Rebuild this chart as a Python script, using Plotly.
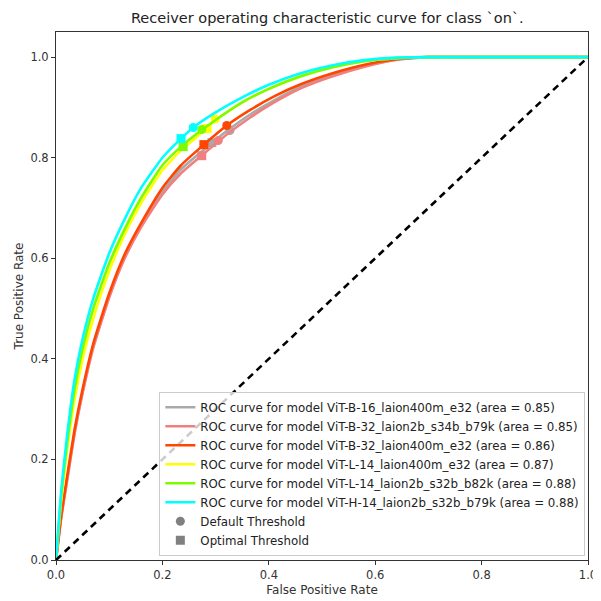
import plotly.graph_objects as go

# ---- data ----
model_names = [
    "ViT-B-16_laion400m_e32",
    "ViT-B-32_laion2b_s34b_b79k",
    "ViT-B-32_laion400m_e32",
    "ViT-L-14_laion400m_e32",
    "ViT-L-14_laion2b_s32b_b82k",
    "ViT-H-14_laion2b_s32b_b79k",
]
model_auc = [0.85, 0.85, 0.86, 0.87, 0.88, 0.88]

fpr_low = [0, 0.01, 0.02, 0.035, 0.05, 0.07, 0.1, 0.13, 0.16, 0.2, 0.235, 0.278,
           0.321, 0.365, 0.41, 0.46, 0.52, 0.58, 0.64, 0.7, 0.8, 0.9, 1.0]
fpr_high = [0, 0.01, 0.02, 0.035, 0.05, 0.07, 0.1, 0.13, 0.16, 0.2, 0.235, 0.258,
            0.3, 0.35, 0.4, 0.46, 0.52, 0.58, 0.64, 0.7, 0.8, 0.9, 1.0]

tpr_b16_400m = [0, 0.087, 0.154, 0.254, 0.334, 0.424, 0.524, 0.604, 0.664, 0.733, 0.777, 0.816,
                0.853, 0.886, 0.914, 0.941, 0.964, 0.982, 0.995, 1.0, 1.0, 1.0, 1.0]
tpr_b32_2b = [0, 0.086, 0.152, 0.252, 0.332, 0.422, 0.522, 0.602, 0.662, 0.727, 0.769, 0.808,
              0.846, 0.88, 0.91, 0.938, 0.962, 0.981, 0.995, 1.0, 1.0, 1.0, 1.0]
tpr_b32_400m = [0, 0.09, 0.16, 0.26, 0.34, 0.43, 0.53, 0.61, 0.67, 0.74, 0.785, 0.826,
                0.864, 0.895, 0.922, 0.946, 0.968, 0.985, 0.996, 1.0, 1.0, 1.0, 1.0]
tpr_l14_400m = [0, 0.12, 0.21, 0.32, 0.40, 0.48, 0.575, 0.65, 0.71, 0.775, 0.815, 0.835,
                0.875, 0.91, 0.937, 0.962, 0.98, 0.992, 0.998, 1.0, 1.0, 1.0, 1.0]
tpr_l14_2b = [0, 0.13, 0.225, 0.34, 0.42, 0.50, 0.59, 0.66, 0.72, 0.785, 0.822, 0.842,
              0.875, 0.91, 0.937, 0.962, 0.98, 0.992, 0.998, 1.0, 1.0, 1.0, 1.0]
tpr_h14_2b = [0, 0.14, 0.24, 0.36, 0.44, 0.52, 0.61, 0.68, 0.74, 0.80, 0.838, 0.86,
              0.89, 0.92, 0.945, 0.968, 0.984, 0.994, 0.999, 1.0, 1.0, 1.0, 1.0]

model_fpr = [fpr_low, fpr_low, fpr_low, fpr_high, fpr_high, fpr_high]
model_tpr = [tpr_b16_400m, tpr_b32_2b, tpr_b32_400m, tpr_l14_400m, tpr_l14_2b, tpr_h14_2b]

# default (0.5) threshold points and optimal threshold points
default_fpr = [0.327, 0.305, 0.321, 0.299, 0.274, 0.258]
default_tpr = [0.854, 0.834, 0.864, 0.877, 0.856, 0.860]
optimal_fpr = [0.293, 0.274, 0.278, 0.284, 0.239, 0.235]
optimal_tpr = [0.830, 0.804, 0.826, 0.858, 0.822, 0.838]

model_colors = ["#a9a9a9", "#f08080", "#ff4500", "#ffff00", "#7cfc00", "#00ffff"]

diag = [0, 1]
x_ticks = [0.0, 0.2, 0.4, 0.6, 0.8, 1.0]
y_ticks = [0.0, 0.2, 0.4, 0.6, 0.8, 1.0]

FONT = "DejaVu Sans, Liberation Sans, sans-serif"

fig = go.Figure()

for i, name in enumerate(model_names):
    c = model_colors[i]
    fig.add_trace(go.Scatter(
        x=model_fpr[i], y=model_tpr[i], mode="lines",
        line=dict(color=c, width=2.6, shape="spline", smoothing=0.5),
        name=f"ROC curve for model {name} (area = {model_auc[i]:.2f})",
        legendrank=i + 1,
    ))
    fig.add_trace(go.Scatter(
        x=[default_fpr[i]], y=[default_tpr[i]], mode="markers",
        marker=dict(color=c, size=9, symbol="circle"), showlegend=False,
    ))
    fig.add_trace(go.Scatter(
        x=[optimal_fpr[i]], y=[optimal_tpr[i]], mode="markers",
        marker=dict(color=c, size=9, symbol="square"), showlegend=False,
    ))

fig.add_trace(go.Scatter(
    x=[None], y=[None], mode="markers",
    marker=dict(color="#808080", size=9, symbol="circle"),
    name="Default Threshold", legendrank=7,
))
fig.add_trace(go.Scatter(
    x=[None], y=[None], mode="markers",
    marker=dict(color="#808080", size=9, symbol="square"),
    name="Optimal Threshold", legendrank=8,
))

fig.add_trace(go.Scatter(
    x=diag, y=diag, mode="lines",
    line=dict(color="black", width=2.6, dash="7px,5px"),
    showlegend=False,
))

axis_common = dict(
    showgrid=False, zeroline=False, showline=True, mirror=True,
    linecolor="#333333", linewidth=1, ticks="outside", ticklen=4,
    tickcolor="#333333", tickformat=".1f", automargin=False,
    tickfont=dict(family=FONT, size=11.5, color="#333333"),
)

# page body has an 8px margin, so the figure is offset by (8, 8)
fig.update_layout(
    width=601, height=601,
    margin=dict(l=48, r=21, t=24, b=49, autoexpand=False),
    paper_bgcolor="white", plot_bgcolor="white",
    title=dict(text="Receiver operating characteristic curve for class `on`.",
               xref="paper", x=0.51, xanchor="center", y=0.983, yanchor="middle",
               font=dict(family=FONT, size=14.5, color="#222222")),
    xaxis=dict(range=[0, 1], tickvals=x_ticks,
               title=dict(text="False Positive Rate", standoff=4,
                          font=dict(family=FONT, size=12, color="#333333")),
               **axis_common),
    yaxis=dict(range=[0, 1.05], tickvals=y_ticks,
               title=dict(text="True Positive Rate", standoff=4,
                          font=dict(family=FONT, size=12, color="#333333")),
               **axis_common),
    legend=dict(x=0.995, y=0.008, xanchor="right", yanchor="bottom",
                bgcolor="rgba(255,255,255,0.8)", bordercolor="#cccccc",
                borderwidth=1, itemwidth=30, tracegroupgap=0,
                font=dict(family=FONT, size=11.8, color="#222222")),
    showlegend=True,
)

fig.write_html("out.html")
